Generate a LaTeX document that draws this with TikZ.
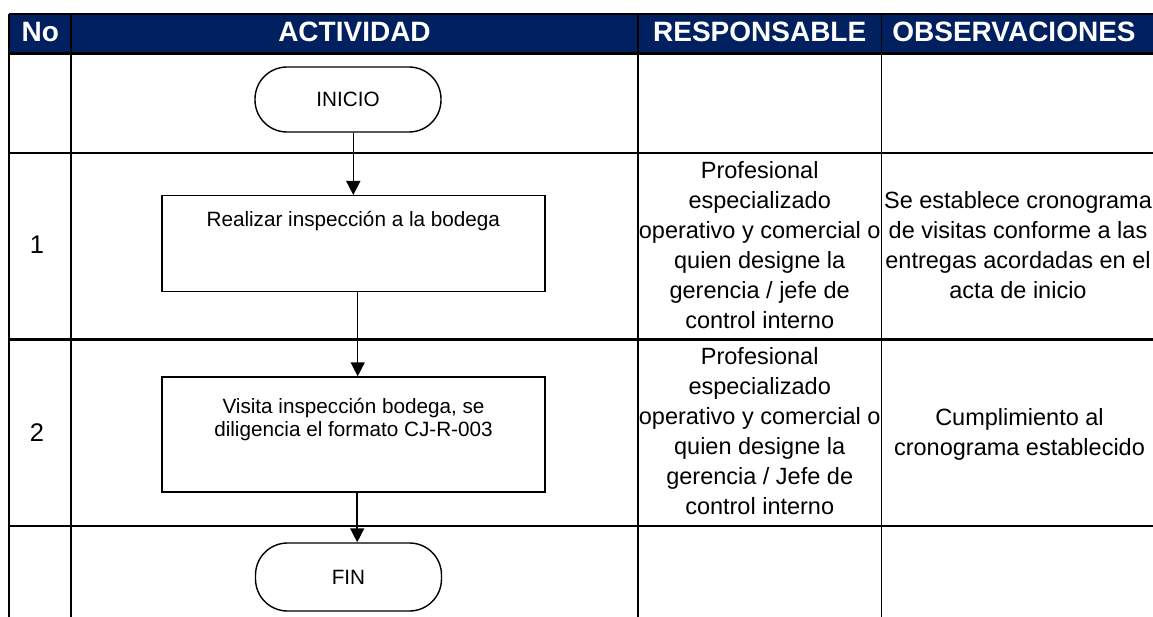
\documentclass[tikz,border=0pt]{standalone}
\usepackage{fontspec}
\setmainfont{Liberation Sans}
\usetikzlibrary{arrows.meta}
\definecolor{navyhdr}{HTML}{002060}
\begin{document}
\begin{tikzpicture}[x=1pt,y=-1pt,
  hline/.style={line width=2.6pt},
  vline/.style={line width=1.7pt},
  hdr/.style={text=white,font=\fontsize{28}{34}\selectfont\bfseries,anchor=base,inner sep=0pt},
  num/.style={font=\fontsize{25.5}{30}\selectfont,anchor=base,inner sep=0pt},
  resp/.style={align=center,font=\fontsize{23.5}{30}\selectfont,anchor=north,inner sep=0pt},
  boxtext/.style={align=center,font=\fontsize{20.7}{23}\selectfont,anchor=north,inner sep=0pt},
  procbox/.style={draw,line width=1.4pt,minimum width=383pt,inner sep=0pt},
  term/.style={draw,line width=1.4pt,rounded corners=32pt,minimum width=186pt,inner sep=0pt,font=\fontsize{20.7}{24}\selectfont},
  flow/.style={line width=1.5pt,-{Triangle[width=14pt,length=14pt]}}]
\useasboundingbox (0,0) rectangle (1153,617);
% header
\fill[navyhdr] (9.3,14) rectangle (1153,53.3);
\draw[line width=2pt] (9.3,14) -- (1153,14);
\foreach \yy in {53.3,153,339.5,526}{\draw[hline] (9.3,\yy) -- (1153,\yy);}
\foreach \xx in {9.3,71,638,881.5}{\draw[vline] (\xx,14) -- (\xx,617);}
\node[hdr] (hno) at (40.2,42) {No};
\node[hdr] (hact) at (354.5,42) {ACTIVIDAD};
\node[hdr] (hres) at (759.7,42) {RESPONSABLE};
\node[hdr] (hobs) at (1014,42) {OBSERVACIONES};
% numbers
\node[num] (n1) at (37,254) {1};
\node[num] (n2) at (37,441) {2};
% flowchart
\node[term,minimum height=65pt] (inicio) at (348,99.5) {INICIO};
\node[procbox,minimum height=96pt] (b1) at (353.3,243.7) {};
\node[boxtext] (t1) at (353.3,211.5) {Realizar inspección a la bodega};
\node[procbox,minimum height=115pt] (b2) at (353.5,434.5) {};
\node[boxtext] (t2) at (353.5,398) {Visita inspección bodega, se\\diligencia el formato CJ-R-003};
\node[term,minimum height=68pt] (fin) at (348.5,577) {FIN};
\draw[flow] (b1.north |- inicio.south) -- (b1.north);
\draw[flow] ([xshift=4.4pt]b1.south) -- ([xshift=4.2pt]b2.north);
\draw[flow] ([xshift=3.7pt]b2.south) -- ([xshift=3.7pt]b2.south |- fin.north);
% responsible
\node[resp] (r1) at (759.7,161) {Profesional\\especializado\\operativo y comercial o\\quien designe la\\gerencia / jefe de\\control interno};
\node[resp] (r2) at (759.7,347.5) {Profesional\\especializado\\operativo y comercial o\\quien designe la\\gerencia / Jefe de\\control interno};
% observations
\node[resp] (o1) at (1018,191) {Se establece cronograma\\de visitas conforme a las\\entregas acordadas en el\\acta de inicio};
\node[resp] (o2) at (1019.5,408.5) {Cumplimiento al\\cronograma establecido};
\end{tikzpicture}
\end{document}
